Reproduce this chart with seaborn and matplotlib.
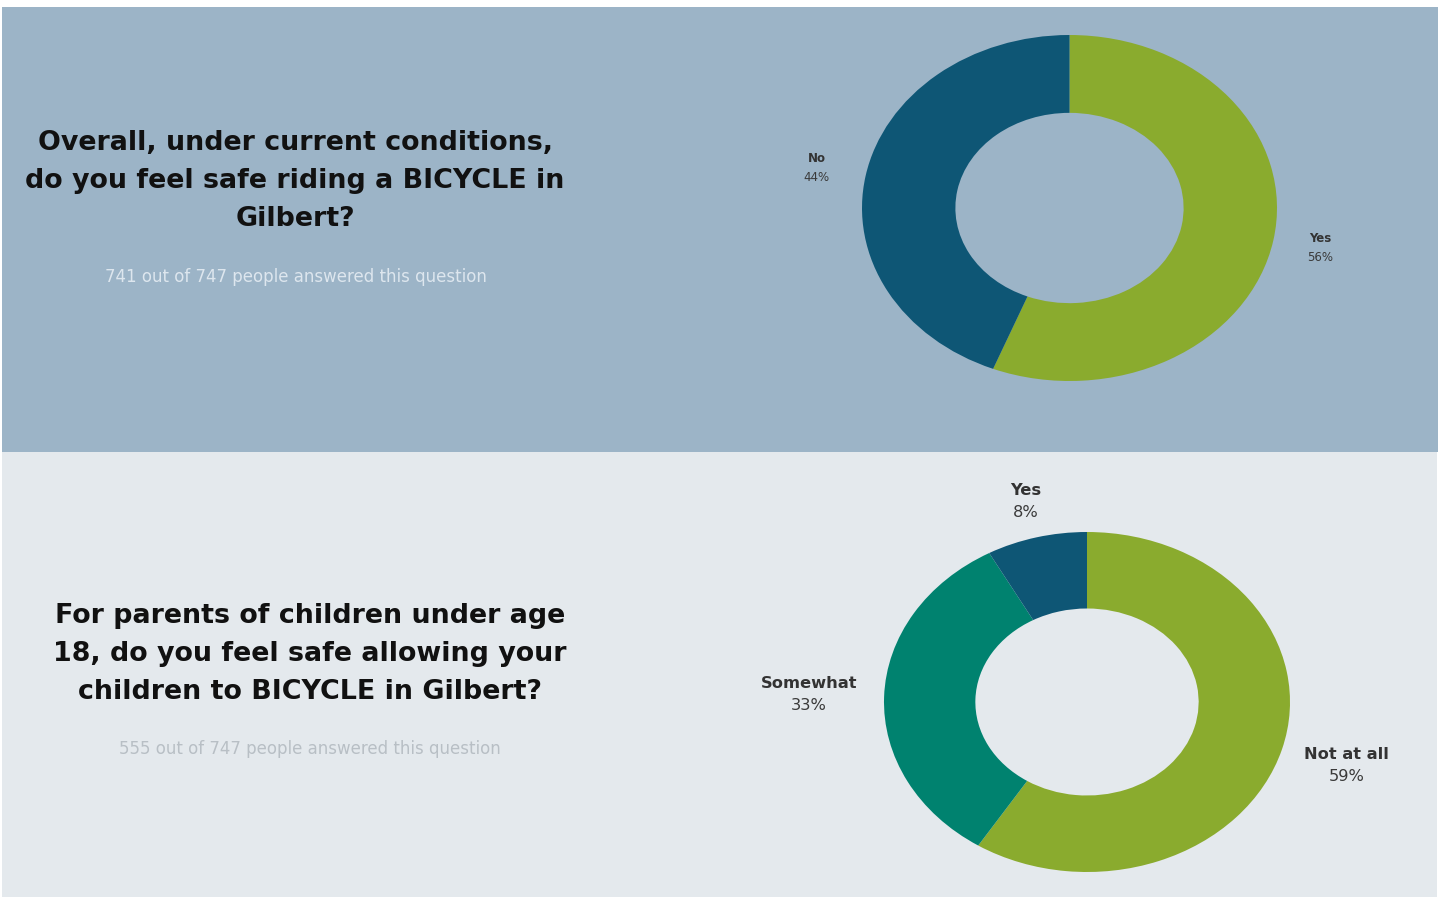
import matplotlib
matplotlib.use("Agg")
import matplotlib.pyplot as plt
from matplotlib.patches import Rectangle
import numpy as np
import seaborn as sns

# Survey results
q1_title = "Overall, under current conditions,\ndo you feel safe riding a BICYCLE in\nGilbert?"
q1_note = "741 out of 747 people answered this question"
q1_labels = ["Yes", "No"]
q1_values = [56, 44]

q2_title = "For parents of children under age\n18, do you feel safe allowing your\nchildren to BICYCLE in Gilbert?"
q2_note = "555 out of 747 people answered this question"
q2_labels = ["Not at all", "Somewhat", "Yes"]
q2_values = [59, 33, 8]

sns.set_style("white")
plt.rcParams["font.family"] = ["DejaVu Sans"]

green, navy, teal = "#8aab2e", "#0e5675", "#00826f"
q1_colors = sns.color_palette([green, navy])
q2_colors = sns.color_palette([green, teal, navy])

W, H = 1445, 898
fig = plt.figure(figsize=(W / 100, H / 100), dpi=100)
fig.patch.set_facecolor("white")


def fx(px):
    return px / W


def fy(py):
    return 1 - py / H


# panel backgrounds
fig.patches.append(Rectangle((fx(2), fy(452)), fx(1436), (452 - 7) / H,
                             transform=fig.transFigure, facecolor="#9cb4c7",
                             edgecolor="none", zorder=-2))
fig.patches.append(Rectangle((fx(2), fy(897)), fx(1435), (897 - 452) / H,
                             transform=fig.transFigure, facecolor="#e4e9ed",
                             edgecolor="none", zorder=-2))


def donut(box, values, labels, colors, dists, fsize, pad):
    left, top, right, bottom = box
    ax = fig.add_axes([fx(left), fy(bottom), fx(right - left), (bottom - top) / H])
    wedges, _ = ax.pie(values, colors=colors, startangle=90, counterclock=False,
                       wedgeprops=dict(width=0.45, edgecolor="none"), radius=1)
    ax.set_aspect("auto")
    ax.set_xlim(-1, 1)
    ax.set_ylim(-1, 1)
    ax.axis("off")
    ax.patch.set_alpha(0)
    for w, lab, v, d in zip(wedges, labels, values, dists):
        ang = np.deg2rad((w.theta1 + w.theta2) / 2)
        x, y = d * np.cos(ang), d * np.sin(ang)
        ax.text(x, y + pad, lab, ha="center", va="center", fontsize=fsize,
                fontweight="bold", color="#333333", clip_on=False)
        ax.text(x, y - pad, f"{v}%", ha="center", va="center", fontsize=fsize,
                color="#3a3a3a", clip_on=False)
    return ax


donut((862, 35, 1277, 381), q1_values, q1_labels, q1_colors,
      [1.23, 1.24], 8.5, 0.055)
donut((884, 532, 1290, 872), q2_values, q2_labels, q2_colors,
      [1.33, 1.37, 1.22], 11.7, 0.065)

# question text
fig.text(fx(295), fy(181), q1_title, ha="center", va="center", fontsize=19.4,
         fontweight="bold", color="#111111", linespacing=1.6)
fig.text(fx(296), fy(277), q1_note, ha="center", va="center", fontsize=12,
         color="#dde6ee")

fig.text(fx(310), fy(654), q2_title, ha="center", va="center", fontsize=19.4,
         fontweight="bold", color="#111111", linespacing=1.6)
fig.text(fx(310), fy(749), q2_note, ha="center", va="center", fontsize=12,
         color="#b8bfc5")

fig.savefig("out.png", dpi=100, facecolor=fig.get_facecolor())
